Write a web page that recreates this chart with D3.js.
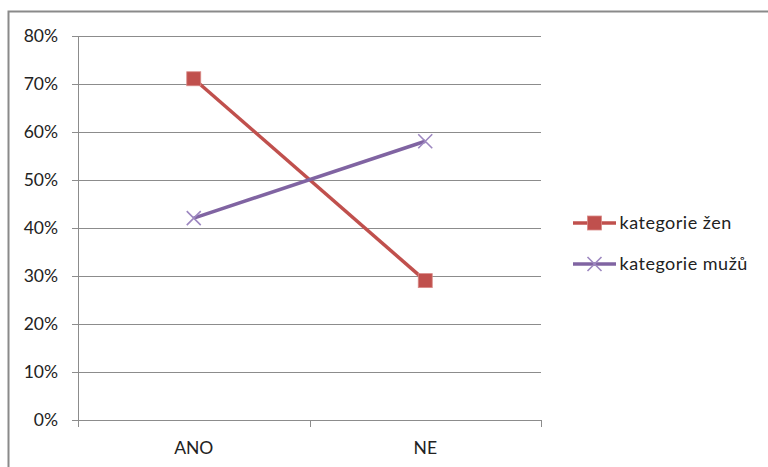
<!DOCTYPE html>
<html>
<head>
<meta charset="utf-8">
<script src="https://cdn.jsdelivr.net/npm/d3@7/dist/d3.min.js"></script>
<style>
  html, body { margin: 0; padding: 0; background: #fff; }
  svg { display: block; }
  text { font-family: Lato, "Open Sans", "Liberation Sans", sans-serif; fill: #222; }
</style>
</head>
<body>
<svg id="chart" width="768" height="467"></svg>
<script>
// Answer categories along the x axis
const categories = ["ANO", "NE"];
// Share of respondents per category
const zenyValues = [0.71, 0.29];
const muziValues = [0.42, 0.58];
const seriesNames = ["kategorie žen", "kategorie mužů"];
const yTicks = [0, 0.1, 0.2, 0.3, 0.4, 0.5, 0.6, 0.7, 0.8];

const series = [
  { name: seriesNames[0], values: zenyValues, color: "#C0504D", marker: "square" },
  { name: seriesNames[1], values: muziValues, color: "#8064A2", marker: "cross" }
];

const FONT = "Lato, 'Open Sans', sans-serif";
const svg = d3.select("#chart");
const plot = { left: 78, right: 541, top: 35.5, bottom: 420 };

// Outer chart frame (runs off the right and bottom edge)
svg.append("path")
  .attr("d", "M8.5,470 V11.5 H770")
  .attr("fill", "none")
  .attr("stroke", "#8a8a8a")
  .attr("stroke-width", 2);

const x = d3.scaleBand().domain(categories).range([plot.left, plot.right]).padding(0);
const y = d3.scaleLinear().domain([0, 0.8]).range([plot.bottom, plot.top]);

// Horizontal gridlines with y-axis labels
const yAxis = d3.axisLeft(y)
  .tickValues(yTicks)
  .tickFormat(d3.format(".0%"))
  .tickSize(-(plot.right - plot.left))
  .tickSizeOuter(0)
  .tickPadding(20);

const gy = svg.append("g")
  .attr("transform", `translate(${plot.left},0)`)
  .call(yAxis);
gy.select(".domain").attr("stroke", "#8c8c8c");
gy.selectAll(".tick line")
  .attr("stroke", "#8c8c8c")
  .attr("x1", -6)
  .attr("shape-rendering", "crispEdges");
gy.selectAll(".tick text")
  .attr("font-size", 17.5)
  .attr("fill", "#222")
  .style("font-family", FONT);

// X axis with category separators
const gx = svg.append("g")
  .attr("transform", `translate(0,${plot.bottom})`)
  .call(d3.axisBottom(x).tickSize(0).tickPadding(21.5));
gx.select(".domain").attr("stroke", "#8c8c8c").attr("shape-rendering", "crispEdges");
gx.selectAll(".tick text")
  .attr("font-size", 17.5)
  .attr("fill", "#222")
  .style("font-family", FONT);

const bounds = [plot.left].concat(categories.map(c => x(c) + x.bandwidth()));
svg.append("g").selectAll("line")
  .data(bounds)
  .join("line")
  .attr("x1", d => Math.round(d) + 0.5)
  .attr("x2", d => Math.round(d) + 0.5)
  .attr("y1", plot.bottom)
  .attr("y2", plot.bottom + 7)
  .attr("stroke", "#8c8c8c");

const cx = c => x(c) + x.bandwidth() / 2;

const line = d3.line()
  .x((d, i) => cx(categories[i]))
  .y(d => y(d));

function drawMarker(g, type, color, px, py) {
  if (type === "square") {
    g.append("rect")
      .attr("x", px - 7).attr("y", py - 7)
      .attr("width", 14).attr("height", 14)
      .attr("fill", color)
      .attr("stroke", "#d98a88")
      .attr("stroke-width", 0.8);
  } else {
    const s = 7;
    g.append("path")
      .attr("d", `M${px - s},${py - s}L${px + s},${py + s}M${px - s},${py + s}L${px + s},${py - s}`)
      .attr("stroke", "#9d87c0")
      .attr("stroke-width", 1.6)
      .attr("fill", "none");
  }
}

// Series lines and markers
series.forEach(s => {
  const g = svg.append("g");
  g.append("path")
    .datum(s.values)
    .attr("d", line)
    .attr("fill", "none")
    .attr("stroke", s.color)
    .attr("stroke-width", 3.5);
  s.values.forEach((v, i) => drawMarker(g, s.marker, s.color, cx(categories[i]), y(v)));
});

// Legend
const legendY = [223, 264];
series.forEach((s, i) => {
  const g = svg.append("g");
  const ly = legendY[i];
  g.append("line")
    .attr("x1", 573).attr("x2", 616)
    .attr("y1", ly).attr("y2", ly)
    .attr("stroke", s.color)
    .attr("stroke-width", 3.5);
  drawMarker(g, s.marker, s.color, 594.5, ly);
  g.append("text")
    .attr("x", 619.5)
    .attr("y", ly)
    .attr("dy", "0.35em")
    .attr("font-size", 18)
    .attr("letter-spacing", 0.5)
    .text(s.name);
});
</script>
</body>
</html>
